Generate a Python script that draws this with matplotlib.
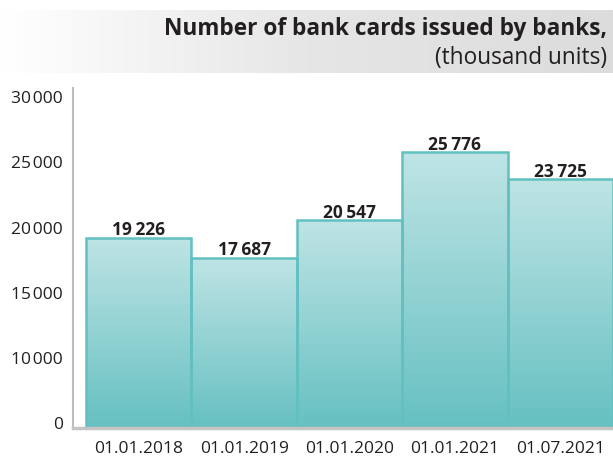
import numpy as np
import matplotlib.pyplot as plt
from matplotlib.colors import LinearSegmentedColormap

dates = ['01.01.2018', '01.01.2019', '01.01.2020', '01.01.2021', '01.07.2021']
cards = [19226, 17687, 20547, 25776, 23725]
# the source chart labels its bottom gridline "0" although it sits at 5000
ytick_pos = [5000, 10000, 15000, 20000, 25000, 30000]
ytick_lab = ['0', '10\u200a000', '15\u200a000', '20\u200a000', '25\u200a000', '30\u200a000']

plt.rcParams['font.family'] = ['Open Sans', 'DejaVu Sans']
TXT = '#231f20'

fig = plt.figure(figsize=(6.13, 4.58), dpi=100)

# header band with grey gradient
hax = fig.add_axes([0, 0.84, 1, 0.138])
grad = np.linspace(0, 1, 256).reshape(1, -1)
hcmap = LinearSegmentedColormap.from_list('h', ['#ffffff', '#e6e6e7', '#dcdcdd'])
hax.imshow(grad, aspect='auto', cmap=hcmap, extent=(0, 1, 0, 1))
hax.set_xlim(0, 1)
hax.set_ylim(0, 1)
hax.axis('off')
hax.text(0.99, 0.7, 'Number of bank cards issued by banks,', ha='right', va='center',
         fontsize=16.3, fontweight='bold', color=TXT)
hax.text(0.99, 0.24, '(thousand units)', ha='right', va='center',
         fontsize=16.3, color=TXT)

ax = fig.add_axes([0.119, 0.0655, 0.881, 0.742])
ylo, yhi = 4620, 30690
x = np.arange(len(cards))
bars = ax.bar(x, cards, width=1.0, facecolor='none', edgecolor='#62c0c0', linewidth=1.8, zorder=3)

bcmap = LinearSegmentedColormap.from_list('b', ['#66c0c1', '#bfe4e5'])
vgrad = np.linspace(0, 1, 256).reshape(-1, 1)
for b in bars:
    im = ax.imshow(vgrad, aspect='auto', cmap=bcmap, origin='lower',
                   extent=(b.get_x(), b.get_x() + b.get_width(), ylo, b.get_height()), zorder=2)
    im.set_clip_path(b)

for xi, v in zip(x, cards):
    ax.text(xi, v + 180, f'{v:,}'.replace(',', '\u2009'), ha='center', va='baseline',
            fontsize=12.5, fontweight='bold', color=TXT)

ax.set_xlim(-0.625, 4.5)
ax.set_ylim(ylo, yhi)
ax.set_yticks(ytick_pos)
ax.set_yticklabels(ytick_lab)
ax.set_xticks(x)
ax.set_xticklabels(dates)
ax.tick_params(length=0, labelsize=12.5, labelcolor=TXT)
ax.tick_params(axis='x', pad=9)
ax.tick_params(axis='y', pad=7)
for s in ['top', 'right']:
    ax.spines[s].set_visible(False)
ax.spines['left'].set_color('#bdbdbd')
ax.spines['left'].set_linewidth(1.5)
ax.spines['bottom'].set_color('#c4c4c4')
ax.spines['bottom'].set_linewidth(2.5)
ax.spines['bottom'].set_zorder(4)

fig.savefig('out.png', dpi=100)
